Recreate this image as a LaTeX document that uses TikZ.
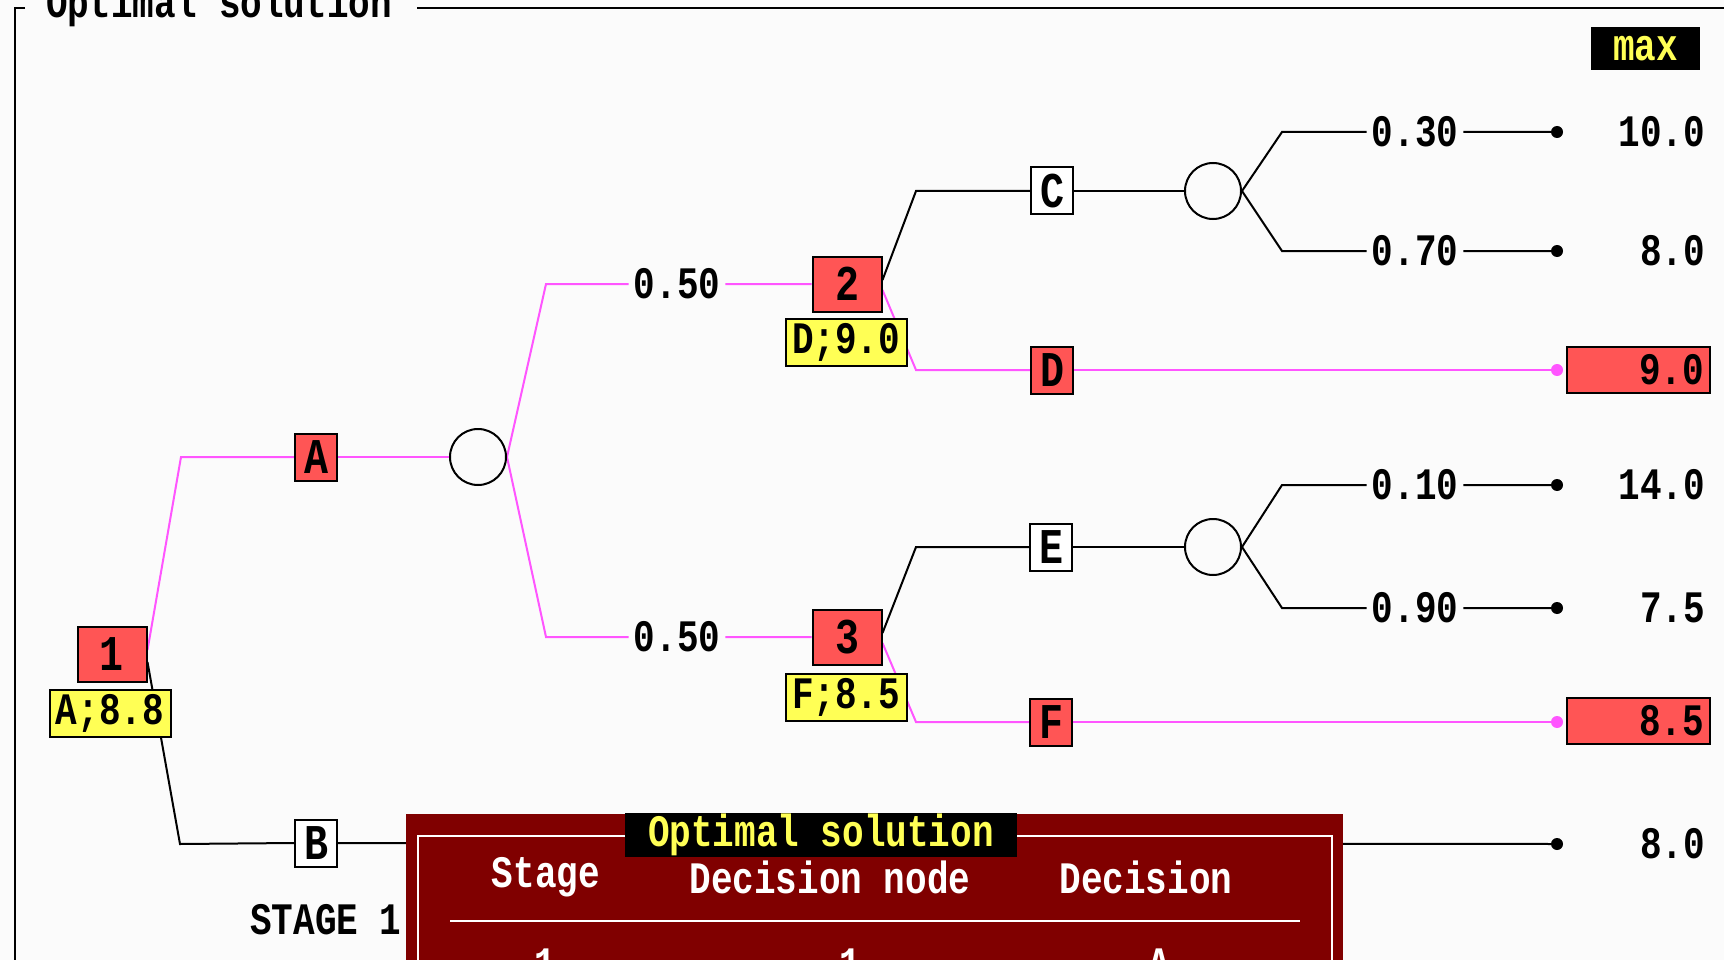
\documentclass[tikz,border=0pt]{standalone}
\usepackage{fontspec}
\newfontfamily\dosfont[FakeStretch=0.8]{Liberation Mono}
\newcommand\txt{\dosfont\bfseries\fontsize{45}{45}\selectfont}
\newcommand\boxtxt{\dosfont\bfseries\fontsize{50}{50}\selectfont}
\definecolor{bgc}{RGB}{251,251,251}
\definecolor{redc}{RGB}{255,85,85}
\definecolor{yelc}{RGB}{255,255,85}
\definecolor{pinkc}{RGB}{255,85,255}
\definecolor{dlgc}{RGB}{128,0,0}
\pgfdeclarelayer{back}
\pgfdeclarelayer{lines}
\pgfsetlayers{back,lines,main}
\tikzset{
  ln/.style={line width=2pt, black},
  pk/.style={line width=2pt, pinkc},
  dbox/.style={draw, line width=2pt, fill=white, minimum width=42pt, minimum height=47pt, inner sep=0pt, font=\boxtxt},
  optbox/.style={dbox, fill=redc},
  numbox/.style={draw, line width=2pt, fill=redc, minimum width=69pt, minimum height=55pt, inner sep=0pt, font=\boxtxt},
  valbox/.style={draw, line width=2pt, fill=yelc, minimum width=121pt, minimum height=47pt, inner sep=0pt, font=\txt},
  resbox/.style={draw, line width=2pt, fill=redc, minimum width=143pt, minimum height=46pt, inner sep=0pt},
  chance/.style={circle, draw, line width=2pt, fill=bgc, minimum size=56pt, inner sep=0pt},
  prob/.style={fill=bgc, inner xsep=5pt, inner ysep=2pt, font=\txt},
  val/.style={anchor=east, inner sep=0pt, font=\txt},
  bdot/.style={circle, fill=black, minimum size=12pt, inner sep=0pt},
  pdot/.style={circle, fill=pinkc, minimum size=12pt, inner sep=0pt},
  plain/.style={inner sep=0pt, font=\txt},
}
\begin{document}
\begin{tikzpicture}[x=1pt,y=-1pt]
\useasboundingbox (0,0) rectangle (1724,960);
\clip (0,0) rectangle (1724,960);
\begin{pgfonlayer}{back}
\fill[bgc] (0,0) rectangle (1724,960);
\draw[ln] (25,8) -- (15,8) -- (15,962);
\draw[ln] (417,8) -- (1726,8);
\end{pgfonlayer}
\node[plain, anchor=base west] (title) at (46,18) {Optimal solution};
\node[fill=black, minimum width=109pt, minimum height=43pt, inner sep=0pt, text=yelc, font=\txt] (max) at (1645.5,48.5) {max};

% decision / chance nodes
\node[numbox] (n1) at (112,654) {1};
\node[valbox] (v1) at (110,713) {A;8.8};
\node[optbox] (A) at (316,457) {A};
\node[dbox] (B) at (316,843) {B};
\node[chance] (c1) at (478,457) {};
\node[prob] (p1) at (677,284) {0.50};
\node[prob] (p2) at (677,637) {0.50};
\node[numbox] (n2) at (847,284) {2};
\node[valbox] (v2) at (846,342) {D;9.0};
\node[numbox] (n3) at (847,637) {3};
\node[valbox] (v3) at (846,697) {F;8.5};
\node[dbox] (C) at (1052,191) {C};
\node[optbox] (D) at (1052,370) {D};
\node[dbox] (E) at (1051,547) {E};
\node[optbox] (F) at (1051,722) {F};
\node[chance] (cC) at (1213,191) {};
\node[chance] (cE) at (1213,547) {};
\node[prob] (q1) at (1415,132) {0.30};
\node[prob] (q2) at (1415,251) {0.70};
\node[prob] (q3) at (1415,485) {0.10};
\node[prob] (q4) at (1415,608) {0.90};
\node[bdot] (d1) at (1557,132) {};
\node[bdot] (d2) at (1557,251) {};
\node[pdot] (d3) at (1557,370) {};
\node[bdot] (d4) at (1557,485) {};
\node[bdot] (d5) at (1557,608) {};
\node[pdot] (d6) at (1557,722) {};
\node[bdot] (d7) at (1557,844) {};
\node[val] (t1) at (1705,132) {10.0};
\node[val] (t2) at (1705,251) {8.0};
\node[resbox] (r1) at (1638.5,370) {};
\node[val] (t3) at ([xshift=-7pt]r1.east) {9.0};
\node[val] (t4) at (1705,485) {14.0};
\node[val] (t5) at (1705,608) {7.5};
\node[resbox] (r2) at (1638.5,721) {};
\node[val] (t6) at ([xshift=-7pt]r2.east) {8.5};
\node[val] (t7) at (1705,844) {8.0};
\node[plain] (stage) at (326,920) {STAGE 1};

% corners
\coordinate (k1) at (181,457);
\coordinate (k2) at (180,844);
\coordinate (k3) at (546,284);
\coordinate (k4) at (546,637);
\coordinate (kC) at (916,191);
\coordinate (kD) at (916,370);
\coordinate (kE) at (916,547);
\coordinate (kF) at (916,722);
\coordinate (u1) at (1282,132);
\coordinate (u2) at (1282,251);
\coordinate (u3) at (1282,485);
\coordinate (u4) at (1282,608);

\begin{pgfonlayer}{lines}
\draw[pk] ([yshift=4pt]n1.east) -- (k1) -- (A.west);
\draw[ln] ([yshift=-8pt]n1.east) -- (k2) -- (B.west);
\draw[ln] (B.east) -- (d7);
\draw[pk] (A.east) -- (c1.west);
\draw[pk] (c1.east) -- (k3) -- (p1) -- (n2.west);
\draw[pk] (c1.east) -- (k4) -- (p2) -- (n3.west);
\draw[ln] ([yshift=4pt]n2.east) -- (kC) -- (C.west);
\draw[ln] (C.east) -- (cC.west);
\draw[pk] ([yshift=-6pt]n2.east) -- (kD) -- (D.west);
\draw[pk] (D.east) -- (d3);
\draw[ln] ([yshift=4pt]n3.east) -- (kE) -- (E.west);
\draw[ln] (E.east) -- (cE.west);
\draw[pk] ([yshift=-6pt]n3.east) -- (kF) -- (F.west);
\draw[pk] (F.east) -- (d6);
\draw[ln] (cC.east) -- (u1) -- (q1) -- (d1);
\draw[ln] (cC.east) -- (u2) -- (q2) -- (d2);
\draw[ln] (cE.east) -- (u3) -- (q3) -- (d4);
\draw[ln] (cE.east) -- (u4) -- (q4) -- (d5);
\end{pgfonlayer}

% result dialog
\fill[dlgc] (406,814) rectangle (1343,970);
\draw[white, line width=2pt] (418,1000) -- (418,836) -- (1332,836) -- (1332,1000);
\draw[white, line width=2pt] (450,921) -- (1300,921);
\node[fill=black, minimum width=392pt, minimum height=44pt, inner sep=0pt, text=yelc, font=\txt] (dtitle) at (821,835) {Optimal solution};
\node[plain, text=white] (h1) at (546,877) {Stage};
\node[plain, text=white] (h2) at (830,877) {Decision node};
\node[plain, text=white] (h3) at (1146,877) {Decision};
\node[plain, text=white] (c11) at (545,964) {1};
\node[plain, text=white] (c12) at (850,964) {1};
\node[plain, text=white] (c13) at (1159,964) {A};
\end{tikzpicture}
\end{document}
